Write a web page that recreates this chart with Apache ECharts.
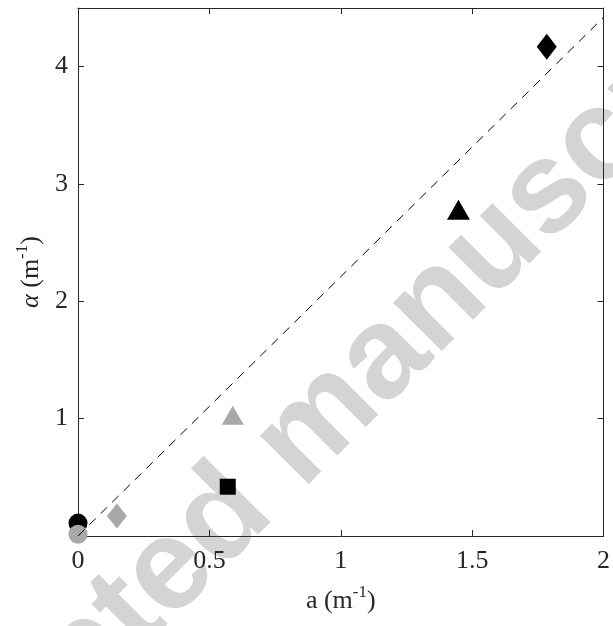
<!DOCTYPE html>
<html>
<head>
<meta charset="utf-8">
<script src="https://cdn.jsdelivr.net/npm/echarts@6/dist/echarts.min.js"></script>
<style>
  html, body { margin: 0; padding: 0; background: #fff; }
  #main { width: 613px; height: 626px; }
</style>
</head>
<body>
<div id="main"></div>
<script>
// 各测点 (a, alpha)
var blackCircle = [[0, 0.11]];
var grayCircle = [[0, 0.015]];
var grayDiamond = [[0.148, 0.17]];
var blackSquare = [[0.57, 0.42]];
var grayTriangle = [[0.589, 1.03]];
var blackTriangle = [[1.448, 2.78]];
var blackDiamond = [[1.784, 4.17]];
// 拟合虚线
var fitLine = [[0, 0], [2, 4.42]];

var xTicks = [0, 0.5, 1, 1.5, 2];
var yTicks = [1, 2, 3, 4];

var axisColor = '#262626';
var gray = '#a8a8a8';
var serif = '"Liberation Serif", "Times New Roman", serif';

var myChart = echarts.init(document.getElementById('main'));

function pointSeries(data, symbol, size, color, z) {
  return {
    type: 'scatter',
    data: data,
    symbol: symbol,
    symbolSize: size,
    clip: false,
    z: z,
    itemStyle: { color: color, opacity: 1 },
    emphasis: { disabled: true }
  };
}

var baseX = {
  type: 'value', min: 0, max: 2, interval: 0.5,
  splitLine: { show: false },
  axisLine: { show: true, onZero: false, lineStyle: { color: axisColor, width: 1 } },
  axisTick: { show: true, inside: true, length: 6, lineStyle: { color: axisColor } }
};
var baseY = {
  type: 'value', min: 0, max: 4.5, interval: 1,
  splitLine: { show: false },
  axisLine: { show: true, onZero: false, lineStyle: { color: axisColor, width: 1 } },
  axisTick: { show: true, inside: true, length: 6, lineStyle: { color: axisColor } }
};

var option = {
  animation: false,
  backgroundColor: '#fff',
  grid: { left: 78, right: 6, top: 8, bottom: 90 },
  xAxis: [
    Object.assign({}, baseX, {
      position: 'bottom',
      axisLabel: {
        margin: 12, color: axisColor, fontFamily: serif, fontSize: 26,
        formatter: function (v) { return xTicks.indexOf(v) >= 0 ? String(v) : ''; }
      },
      name: '{t|a (m}{s|-1}{t|)}',
      nameLocation: 'middle',
      nameGap: 48,
      nameTextStyle: {
        color: axisColor, fontFamily: serif, fontSize: 26,
        rich: {
          t: { fontFamily: serif, fontSize: 26, color: axisColor, lineHeight: 30, verticalAlign: 'bottom' },
          s: { fontFamily: serif, fontSize: 17, color: axisColor, lineHeight: 30, verticalAlign: 'top', padding: [0, 0, 12, 0] }
        }
      }
    }),
    Object.assign({}, baseX, { position: 'top', axisLabel: { show: false } })
  ],
  yAxis: [
    Object.assign({}, baseY, {
      position: 'left',
      axisLabel: {
        margin: 10, color: axisColor, fontFamily: serif, fontSize: 26,
        formatter: function (v) { return yTicks.indexOf(v) >= 0 ? String(v) : ''; }
      },
      name: '{a|α} {t|(m}{s|-1}{t|)}',
      nameLocation: 'middle',
      nameRotate: 90,
      nameGap: 34,
      nameTextStyle: {
        color: axisColor, fontFamily: serif, fontSize: 26,
        rich: {
          a: { fontFamily: serif, fontStyle: 'italic', fontSize: 26, color: axisColor, lineHeight: 30, verticalAlign: 'bottom' },
          t: { fontFamily: serif, fontSize: 26, color: axisColor, lineHeight: 30, verticalAlign: 'bottom' },
          s: { fontFamily: serif, fontSize: 17, color: axisColor, lineHeight: 30, verticalAlign: 'top', padding: [0, 0, 12, 0] }
        }
      }
    }),
    Object.assign({}, baseY, { position: 'right', axisLabel: { show: false } })
  ],
  graphic: [{
    type: 'text',
    x: 305, y: 437,
    rotation: Math.PI / 4,
    silent: true,
    z: -10,
    style: {
      text: 'Accepted manuscript',
      fill: '#d4d4d4',
      font: 'bold 130px "Liberation Sans"',
      align: 'center',
      verticalAlign: 'middle'
    }
  }],
  series: [
    pointSeries(blackCircle, 'circle', 19, '#000', 3),
    pointSeries(grayCircle, 'circle', 19, gray, 4),
    pointSeries(grayDiamond, 'diamond', [20, 25], gray, 3),
    pointSeries(blackSquare, 'rect', 16, '#000', 3),
    pointSeries(grayTriangle, 'triangle', [22, 19], gray, 3),
    pointSeries(blackTriangle, 'triangle', [23, 20], '#000', 3),
    pointSeries(blackDiamond, 'diamond', [20, 26], '#000', 3),
    {
      type: 'line',
      data: fitLine,
      symbol: 'none',
      clip: false,
      z: 5,
      lineStyle: { color: '#000', width: 1, type: [9, 7] },
      emphasis: { disabled: true }
    }
  ]
};

myChart.setOption(option);
</script>
</body>
</html>
